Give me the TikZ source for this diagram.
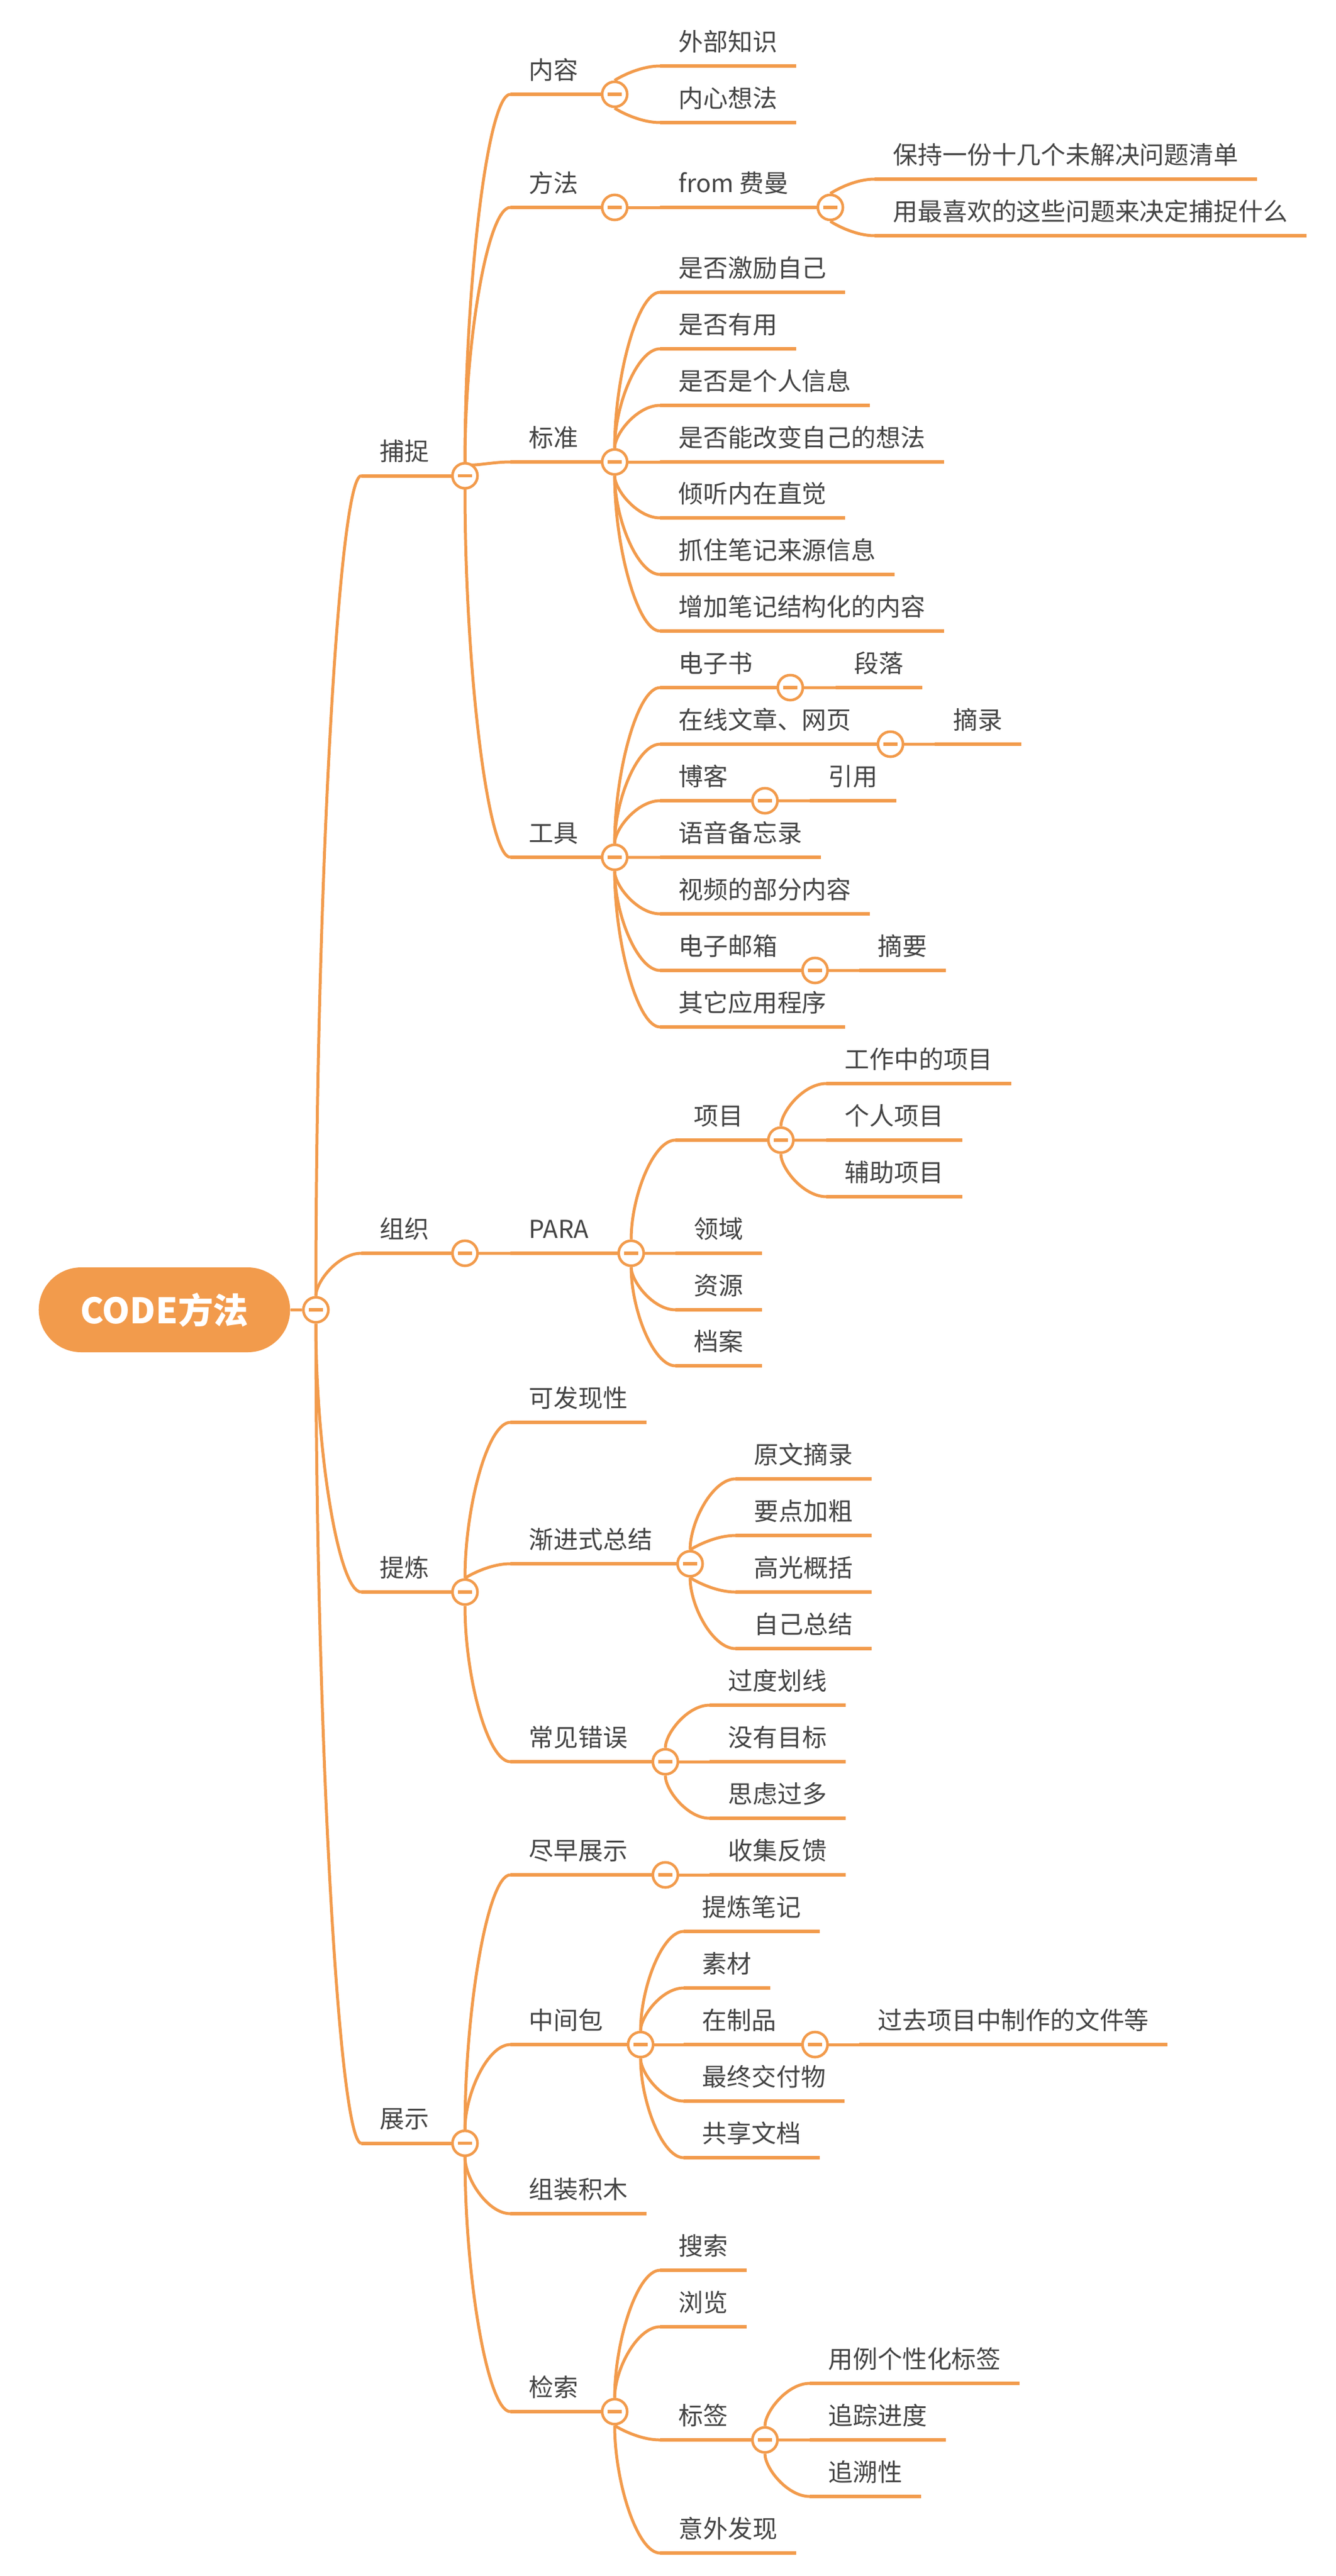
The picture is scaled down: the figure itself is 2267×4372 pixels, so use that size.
\documentclass[tikz,border=0pt]{standalone}
\usepackage{fontspec}
\setmainfont{Noto Sans CJK SC}
\usepackage{xcolor}
\usepackage{tikz}
\usetikzlibrary{calc,shapes.misc,backgrounds}

\definecolor{mapline}{HTML}{F29B4C}
\definecolor{ink}{HTML}{444444}

\begin{document}
\begin{tikzpicture}[x=0.1mm, y=-0.1mm,
        topic/.style={anchor=south west, text=ink, font=\fontsize{11.9pt}{14pt}\selectfont, inner xsep=3.1mm, inner ysep=2.5mm, text depth=0pt},
        rootbox/.style={rounded rectangle, fill=mapline, text=white, font=\bfseries\fontsize{17pt}{20pt}\selectfont, minimum width=45mm, minimum height=14.4mm},
        fold/.style={circle, draw=mapline, line width=0.45mm, fill=white, minimum size=4.25mm, inner sep=0pt,
            path picture={\fill[mapline] ([xshift=-1.2mm, yshift=-0.27mm]path picture bounding box.center) rectangle ++(2.4mm, 0.54mm);}},
        uline/.style={draw=mapline, line width=0.6mm},
        branch/.style={draw=mapline, line width=0.5mm,
            to path={.. controls ($(\tikztostart)!0.5!(\tikztostart|-\tikztotarget)$) and ($(\tikztotarget)!0.5!(\tikztostart|-\tikztotarget)$) .. (\tikztotarget)}}]

        \useasboundingbox (0,0) rectangle (2267,4372);

        % Root and main branches
        \node[rootbox] (code) at (279,2223) {CODE方法};
        \node[topic] (capture) at (613,807.5) {捕捉};
        \node[topic] (organize) at (613,2127) {组织};
        \node[topic] (distill) at (613,2702) {提炼};
        \node[topic] (express) at (613,3637.5) {展示};

        % Capture
        \node[topic] (content) at (866,160) {内容};
        \node[topic] (method) at (866,352) {方法};
        \node[topic] (criteria) at (866,784) {标准};
        \node[topic] (tools) at (866,1455) {工具};
        \node[topic] (outside) at (1120,112) {外部知识};
        \node[topic] (inner) at (1120,208) {内心想法};
        \node[topic] (feynman) at (1120,352) {from 费曼};
        \node[topic] (keep) at (1484,304) {保持一份十几个未解决问题清单};
        \node[topic] (favorite) at (1484,400) {用最喜欢的这些问题来决定捕捉什么};
        \node[topic] (inspire) at (1120,496) {是否激励自己};
        \node[topic] (useful) at (1120,592) {是否有用};
        \node[topic] (personal) at (1120,688) {是否是个人信息};
        \node[topic] (surprise) at (1120,784) {是否能改变自己的想法};
        \node[topic] (intuit) at (1120,879) {倾听内在直觉};
        \node[topic] (source) at (1120,975) {抓住笔记来源信息};
        \node[topic] (struct) at (1120,1071) {增加笔记结构化的内容};
        \node[topic] (ebook) at (1120,1167) {电子书};
        \node[topic] (online) at (1120,1263) {在线文章、网页};
        \node[topic] (blog) at (1120,1359) {博客};
        \node[topic] (voice) at (1120,1455) {语音备忘录};
        \node[topic] (video) at (1120,1551) {视频的部分内容};
        \node[topic] (email) at (1120,1647) {电子邮箱};
        \node[topic] (apps) at (1120,1743) {其它应用程序};
        \node[topic] (passage) at (1418,1167) {段落};
        \node[topic] (excerpt) at (1586,1263) {摘录};
        \node[topic] (quote) at (1374,1359) {引用};
        \node[topic] (summary) at (1458,1647) {摘要};

        % Organize
        \node[topic] (para) at (866,2127) {PARA};
        \node[topic] (projects) at (1146,1935) {项目};
        \node[topic] (areas) at (1146,2127) {领域};
        \node[topic] (resources) at (1146,2223) {资源};
        \node[topic] (archives) at (1146,2318) {档案};
        \node[topic] (work) at (1402,1839) {工作中的项目};
        \node[topic] (own) at (1402,1935) {个人项目};
        \node[topic] (aux) at (1402,2031) {辅助项目};

        % Distill
        \node[topic] (discover) at (866,2414) {可发现性};
        \node[topic] (progsum) at (866,2654) {渐进式总结};
        \node[topic] (mistakes) at (866,2990) {常见错误};
        \node[topic] (orig) at (1248,2510) {原文摘录};
        \node[topic] (bold) at (1248,2606) {要点加粗};
        \node[topic] (highlight) at (1248,2702) {高光概括};
        \node[topic] (mysum) at (1248,2798) {自己总结};
        \node[topic] (overmark) at (1204,2894) {过度划线};
        \node[topic] (nogoal) at (1204,2990) {没有目标};
        \node[topic] (overthink) at (1204,3086) {思虑过多};

        % Express
        \node[topic] (early) at (866,3182) {尽早展示};
        \node[topic] (packets) at (866,3470) {中间包};
        \node[topic] (blocks) at (866,3757) {组装积木};
        \node[topic] (retrieve) at (866,4093) {检索};
        \node[topic] (feedback) at (1204,3182) {收集反馈};
        \node[topic] (notes) at (1160,3278) {提炼笔记};
        \node[topic] (material) at (1160,3374) {素材};
        \node[topic] (wip) at (1160,3470) {在制品};
        \node[topic] (final) at (1160,3566) {最终交付物};
        \node[topic] (shared) at (1160,3662) {共享文档};
        \node[topic] (pastfiles) at (1458,3470) {过去项目中制作的文件等};
        \node[topic] (search) at (1120,3853) {搜索};
        \node[topic] (browse) at (1120,3949) {浏览};
        \node[topic] (tags) at (1120,4141) {标签};
        \node[topic] (serendip) at (1120,4333) {意外发现};
        \node[topic] (usecase) at (1374,4045) {用例个性化标签};
        \node[topic] (track) at (1374,4141) {追踪进度};
        \node[topic] (trace) at (1374,4237) {追溯性};

        % Fold markers
        \node[fold] (f-code) at (536,2223) {};
        \node[fold] (f-capture) at (789,807.5) {};
        \node[fold] (f-organize) at (789,2127) {};
        \node[fold] (f-distill) at (789,2702) {};
        \node[fold] (f-express) at (789,3637.5) {};
        \node[fold] (f-content) at (1043,160) {};
        \node[fold] (f-method) at (1043,352) {};
        \node[fold] (f-criteria) at (1043,784) {};
        \node[fold] (f-tools) at (1043,1455) {};
        \node[fold] (f-feynman) at (1409,352) {};
        \node[fold] (f-ebook) at (1341,1167) {};
        \node[fold] (f-online) at (1511,1263) {};
        \node[fold] (f-blog) at (1298,1359) {};
        \node[fold] (f-email) at (1383,1647) {};
        \node[fold] (f-para) at (1071,2127) {};
        \node[fold] (f-projects) at (1325,1935) {};
        \node[fold] (f-progsum) at (1171,2654) {};
        \node[fold] (f-mistakes) at (1129,2990) {};
        \node[fold] (f-early) at (1129,3182) {};
        \node[fold] (f-packets) at (1087,3470) {};
        \node[fold] (f-wip) at (1383,3470) {};
        \node[fold] (f-retrieve) at (1043,4093) {};
        \node[fold] (f-tags) at (1298,4141) {};

        % Edges
        \begin{pgfonlayer}{background}
            \draw[uline, line width=0.5mm] (code) -- (f-code);
            \foreach \n in {outside, inner, keep, favorite, inspire, useful, personal, surprise, intuit, source, struct,
                    passage, excerpt, quote, voice, video, summary, apps, work, own, aux, areas, resources, archives,
                    discover, orig, bold, highlight, mysum, overmark, nogoal, overthink, feedback, notes, material,
                    pastfiles, final, shared, blocks, search, browse, usecase, track, trace, serendip}
                \draw[uline] (\n.south west) -- (\n.south east);
            \foreach \n in {capture, organize, distill, express, content, method, feynman, criteria, tools, ebook,
                    online, blog, email, para, projects, progsum, mistakes, early, packets, wip, retrieve, tags}
                \draw[uline] (\n.south west) -- (f-\n);
            \foreach \pa/\ch in {code/capture, code/organize, code/distill, code/express,
                    capture/content, capture/method, capture/criteria, capture/tools,
                    content/outside, content/inner, method/feynman, feynman/keep, feynman/favorite,
                    criteria/inspire, criteria/useful, criteria/personal, criteria/surprise, criteria/intuit, criteria/source, criteria/struct,
                    tools/ebook, tools/online, tools/blog, tools/voice, tools/video, tools/email, tools/apps,
                    ebook/passage, online/excerpt, blog/quote, email/summary,
                    organize/para, para/projects, para/areas, para/resources, para/archives,
                    projects/work, projects/own, projects/aux,
                    distill/discover, distill/progsum, distill/mistakes,
                    progsum/orig, progsum/bold, progsum/highlight, progsum/mysum,
                    mistakes/overmark, mistakes/nogoal, mistakes/overthink,
                    express/early, express/packets, express/blocks, express/retrieve, early/feedback,
                    packets/notes, packets/material, packets/wip, packets/final, packets/shared, wip/pastfiles,
                    retrieve/search, retrieve/browse, retrieve/tags, retrieve/serendip,
                    tags/usecase, tags/track, tags/trace}
                \draw[branch] (f-\pa) to (\ch.south west);
        \end{pgfonlayer}

    \end{tikzpicture}
\end{document}
